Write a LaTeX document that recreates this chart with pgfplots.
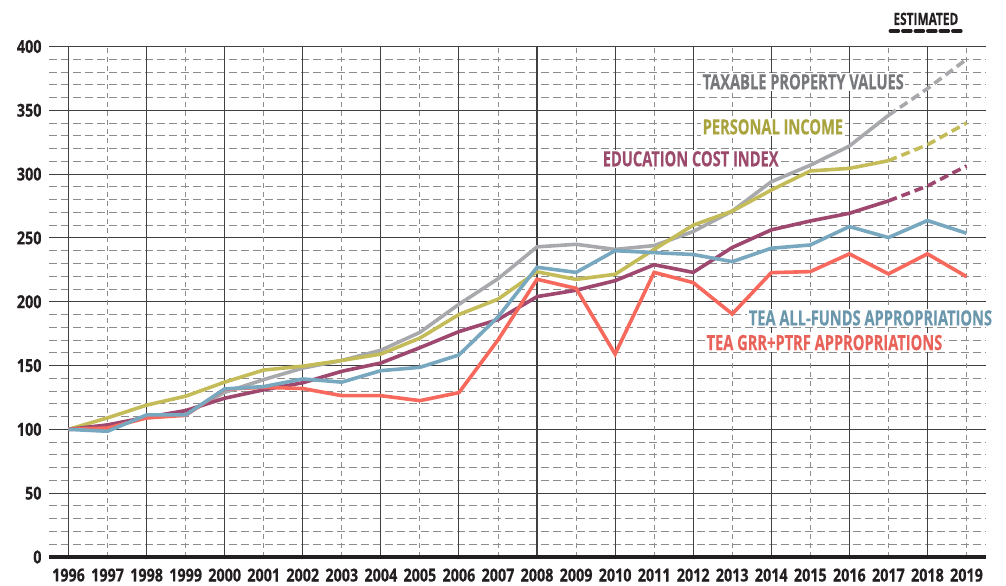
\documentclass[border=0pt]{standalone}
\usepackage{pgfplots}
\pgfplotsset{compat=1.18}
\usetikzlibrary{calc}
\usepackage{fontspec}
\setmainfont{Open Sans}[FakeStretch=0.7, BoldFeatures={FakeBold=0.4}]
\newfontfamily\tickfont{Open Sans}[FakeStretch=0.8, BoldFeatures={FakeBold=0.4}]

\definecolor{propgray}{HTML}{A7A9AC}
\definecolor{proptext}{HTML}{77787B}
\definecolor{incline}{HTML}{C4BC58}
\definecolor{inctext}{HTML}{A9A43E}
\definecolor{eduline}{HTML}{9E4870}
\definecolor{edutext}{HTML}{9C4A6C}
\definecolor{allline}{HTML}{78A8BF}
\definecolor{alltext}{HTML}{6B97AD}
\definecolor{grrline}{HTML}{F7695C}
\definecolor{grrtext}{HTML}{E8625A}
\definecolor{ink}{HTML}{231F20}

\begin{document}
\begin{tikzpicture}
\begin{axis}[
  scale only axis,
  width=937bp, height=510.5bp,
  xmin=1995.5, xmax=2019.5,
  ymin=0, ymax=400,
  xtick={1996,1998,...,2018},
  extra x ticks={1997,1999,...,2019},
  ytick={0,50,...,400},
  minor ytick={10,20,30,40,60,70,80,90,110,120,130,140,160,170,180,190,210,220,230,240,260,270,280,290,310,320,330,340,360,370,380,390},
  ymajorgrids, yminorgrids,
  major grid style={draw=black!75, line width=1.1bp},
  minor grid style={draw=black!45, line width=0.9bp, dash pattern=on 8bp off 4bp},
  major tick length=0pt, minor tick length=0pt,
  axis line style={draw=none},
  /pgf/number format/assume math mode=true,
  xticklabel={\pgfmathprintnumber[1000 sep=]{\tick}},
  xticklabel style={font=\tickfont\bfseries\fontsize{18}{18}\selectfont, text=ink, yshift=-8bp},
  yticklabel style={font=\tickfont\bfseries\fontsize{18}{18}\selectfont, text=ink, xshift=-4bp},
  clip=false,
]
% vertical grid: solid on even years, dashed on odd years
\pgfplotsinvokeforeach{1996,1998,...,2018}{
  \draw[black!75, line width=1.1bp] (axis cs:#1,0) -- (axis cs:#1,400);
}
\pgfplotsinvokeforeach{1997,1999,...,2019}{
  \draw[black!45, line width=0.9bp, dash pattern=on 5bp off 4bp] (axis cs:#1,0) -- (axis cs:#1,400);
}

% actual values
\addplot[propgray, line width=3.6bp] coordinates {
  (1996,100)(1997,103)(1998,109)(1999,112)(2000,129)(2001,139)(2002,148)(2003,154)
  (2004,162)(2005,176)(2006,198)(2007,218)(2008,243)(2009,245)(2010,241)(2011,244)
  (2012,255)(2013,271)(2014,294)(2015,307)(2016,322)(2017,346)};
\addplot[incline, line width=3.6bp] coordinates {
  (1996,100)(1997,109)(1998,119)(1999,126)(2000,137)(2001,146.5)(2002,149.5)(2003,154)
  (2004,159)(2005,171.5)(2006,190)(2007,202)(2008,223.5)(2009,217.5)(2010,221.5)(2011,241)
  (2012,260)(2013,271)(2014,287.5)(2015,302.5)(2016,304.5)(2017,310.5)};
\addplot[eduline, line width=3.6bp] coordinates {
  (1996,100)(1997,103.5)(1998,109.5)(1999,114.7)(2000,124.4)(2001,131)(2002,136.5)(2003,145.5)
  (2004,152)(2005,164)(2006,176.6)(2007,186)(2008,204)(2009,209)(2010,216.5)(2011,229)
  (2012,223)(2013,242.5)(2014,256.3)(2015,263.3)(2016,269.3)(2017,279)};
\addplot[grrline, line width=3.6bp] coordinates {
  (1996,100)(1997,101)(1998,109)(1999,111)(2000,131.4)(2001,133)(2002,132)(2003,126.4)
  (2004,126.4)(2005,122.5)(2006,128.8)(2007,170)(2008,217.6)(2009,210.5)(2010,159)(2011,223)
  (2012,215)(2013,190.4)(2014,222.8)(2015,223.6)(2016,237.5)(2017,221.8)(2018,237.5)(2019,219.7)};
\addplot[allline, line width=3.6bp] coordinates {
  (1996,100)(1997,98.5)(1998,111.3)(1999,111.3)(2000,131.7)(2001,133.5)(2002,139.5)(2003,137)
  (2004,146)(2005,148.6)(2006,158.3)(2007,188)(2008,227)(2009,223)(2010,240)(2011,238.5)
  (2012,237)(2013,231.4)(2014,241.9)(2015,244.5)(2016,258.9)(2017,250.3)(2018,263.6)(2019,253.7)};

% estimated values
\addplot[propgray, line width=3.6bp, dash pattern=on 9bp off 5bp] coordinates {
  (2017,346)(2018,367)(2019,390)};
\addplot[incline, line width=3.6bp, dash pattern=on 9bp off 5bp] coordinates {
  (2017,310.5)(2018,323)(2019,340)};
\addplot[eduline, line width=3.6bp, dash pattern=on 9bp off 5bp] coordinates {
  (2017,279)(2018,290.7)(2019,306.4)};

% bottom axis line
\draw[ink, line width=3.2bp] (axis cs:1995.5,0) -- (axis cs:2019.5,0);

% series labels
\begin{scope}[every node/.style={font=\bfseries\fontsize{21}{21}\selectfont, fill=white, inner sep=1.5bp, anchor=west}]
\node[text=proptext] at (axis cs:2012.2,372.3) {TAXABLE PROPERTY VALUES};
\node[text=inctext] at (axis cs:2012.2,337) {PERSONAL INCOME};
\node[text=edutext] at (axis cs:2009.64,312) {EDUCATION COST INDEX};
\node[text=alltext] at (axis cs:2013.38,187.3) {TEA ALL-FUNDS APPROPRIATIONS};
\node[text=grrtext] at (axis cs:2012.3,168) {TEA GRR+PTRF APPROPRIATIONS};
\end{scope}

% estimated key
\node[font=\bfseries\fontsize{17}{17}\selectfont, text=ink, inner sep=0pt] at (axis cs:2017.96,421.6) {ESTIMATED};
\draw[ink, line width=3.6bp, dash pattern=on 8bp off 4.5bp, line cap=round] (axis cs:2017.05,412.2) -- (axis cs:2018.92,412.2);
\end{axis}
\pgfresetboundingbox
\path ($(current axis.south west)+(-49bp,-29bp)$) rectangle ($(current axis.north east)+(20bp,46.5bp)$);
\end{tikzpicture}
\end{document}
